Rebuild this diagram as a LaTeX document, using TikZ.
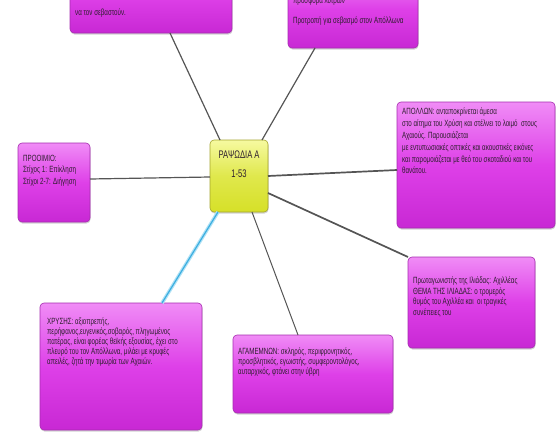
\documentclass[tikz,border=0pt]{standalone}
\usepackage{fontspec}
\newfontfamily\boxfont[FakeStretch=0.69]{Liberation Sans}
\usetikzlibrary{positioning,shadows}

\definecolor{pinktop}{RGB}{240,140,246}
\definecolor{pinkmid}{RGB}{222,64,232}
\definecolor{pinkbot}{RGB}{200,40,212}
\definecolor{pinkline}{RGB}{165,45,175}
\definecolor{yeltop}{RGB}{246,250,160}
\definecolor{yelbot}{RGB}{214,224,40}
\definecolor{yelline}{RGB}{165,165,45}
\definecolor{inkgray}{RGB}{45,30,45}
\definecolor{linkgray}{RGB}{85,85,85}
\definecolor{linkblue}{RGB}{60,175,225}
\definecolor{glowblue}{RGB}{175,225,245}

\begin{document}
\begin{tikzpicture}
  [
    x=1pt, y=-1pt,
    PinkBox/.style={draw=pinkline, line width=0.6pt, rounded corners=4pt, top color=pinktop, bottom color=pinkbot, middle color=pinkmid, drop shadow={shadow xshift=0.5pt, shadow yshift=-1.5pt, opacity=0.35}, inner sep=0pt, outer sep=0pt},
    CenterBox/.style={PinkBox, draw=yelline, top color=yeltop, bottom color=yelbot, middle color=yelbot!70!yeltop, minimum width=58pt, minimum height=72pt},
    BoxText/.style={font=\boxfont\fontsize{9}{10.5}\selectfont, text=inkgray, align=left, inner sep=0pt},
    Link/.style={draw=linkgray, line width=1.2pt},
  ]

  \useasboundingbox (0,0) rectangle (559,434);
  \clip (0,0) rectangle (559,434);

  \node [CenterBox] (rhapsody) at (239,176) {};
  \node [BoxText, font=\boxfont\fontsize{11}{19}\selectfont, align=center, below=11pt of rhapsody.north] (rhapsody-t) {ΡΑΨΩΔΙΑ Α\\1-53};

  \node [PinkBox, minimum width=162pt, minimum height=73pt] (plea) at (151,-3.5) {};
  \node [BoxText, below right=49pt and 5pt of plea.north west] (plea-t) {να τον σεβαστούν.};

  \node [PinkBox, minimum width=130pt, minimum height=78pt] (ransom) at (353,9) {};
  \node [BoxText, below right=27pt and 5pt of ransom.north west] (ransom-t) {προσφορά λύτρων\\[9pt]Προτροπή για σεβασμό στον Απόλλωνα};

  \node [PinkBox, minimum width=158pt, minimum height=126pt] (apollo) at (476,165) {};
  \node [BoxText, font=\boxfont\fontsize{9}{11.8}\selectfont, below right=6pt and 5pt of apollo.north west] (apollo-t)
    {ΑΠΟΛΛΩΝ: ανταποκρίνεται άμεσα\\στο αίτημα του Χρύση και στέλνει το λοιμό\ \ στους\\Αχαιούς. Παρουσιάζεται\\με εντυπωσιακές οπτικές και ακουστικές εικόνες\\και παρομοιάζεται με θεό του σκοταδιού και του\\θανάτου.};

  \node [PinkBox, minimum width=72pt, minimum height=79pt] (prooimio) at (54,182.5) {};
  \node [BoxText, font=\boxfont\fontsize{9}{11.5}\selectfont, below right=12pt and 5pt of prooimio.north west] (prooimio-t)
    {ΠΡΟΟΙΜΙΟ:\\Στίχος 1: Επίκληση\\Στίχοι 2-7: Διήγηση};

  \node [PinkBox, minimum width=127pt, minimum height=91pt] (protag) at (471.5,302.5) {};
  \node [BoxText, below right=20pt and 5pt of protag.north west] (protag-t)
    {Πρωταγωνιστής της Ιλιάδας: Αχιλλέας\\ΘΕΜΑ ΤΗΣ ΙΛΙΑΔΑΣ: ο τρομερός\\θυμός του Αχιλλέα και\ \ οι τραγικές\\συνέπειες του};

  \node [PinkBox, minimum width=162pt, minimum height=127pt] (chryses) at (121,366.5) {};
  \node [BoxText, font=\boxfont\fontsize{9}{9.8}\selectfont, below right=15pt and 7pt of chryses.north west] (chryses-t)
    {ΧΡΥΣΗΣ: αξιοπρεπής,\\περήφανος,ευγενικός,σοβαρός, πληγωμένος\\πατέρας, είναι φορέας θεϊκής εξουσίας, έχει στο\\πλευρό του τον Απόλλωνα, μιλάει με κρυφές\\απειλές, ζητά την τιμωρία των Αχαιών.};

  \node [PinkBox, minimum width=160pt, minimum height=78pt] (agam) at (313,374) {};
  \node [BoxText, font=\boxfont\fontsize{9}{10}\selectfont, below right=13pt and 5pt of agam.north west] (agam-t)
    {ΑΓΑΜΕΜΝΩΝ: σκληρός, περιφρονητικός,\\προσβλητικός, εγωιστής, συμφεροντολόγος,\\αυταρχικός, φτάνει στην ύβρη};

  \draw [Link] ([xshift=10pt]rhapsody.north west) -- ([xshift=19pt]plea.south);
  \draw [Link] ([xshift=-6pt]rhapsody.north east) -- ([xshift=-38pt]ransom.south);
  \draw [Link, line width=1.7pt] (rhapsody.east) -- ([yshift=-5pt]apollo.west);
  \draw [Link] ([yshift=3.5pt]prooimio.east) -- ([yshift=-1pt]rhapsody.west);
  \draw [Link, line width=1.7pt] ([yshift=-17pt]rhapsody.east) -- (protag.north west);
  \draw [Link, line width=1pt] ([xshift=13pt]rhapsody.south) -- ([xshift=-15pt]agam.north);
  \draw [draw=glowblue, line width=1.2pt, double=linkblue, double distance=1.2pt]
    ([xshift=8pt]rhapsody.south west) -- ([xshift=41pt]chryses.north);
\end{tikzpicture}
\end{document}
